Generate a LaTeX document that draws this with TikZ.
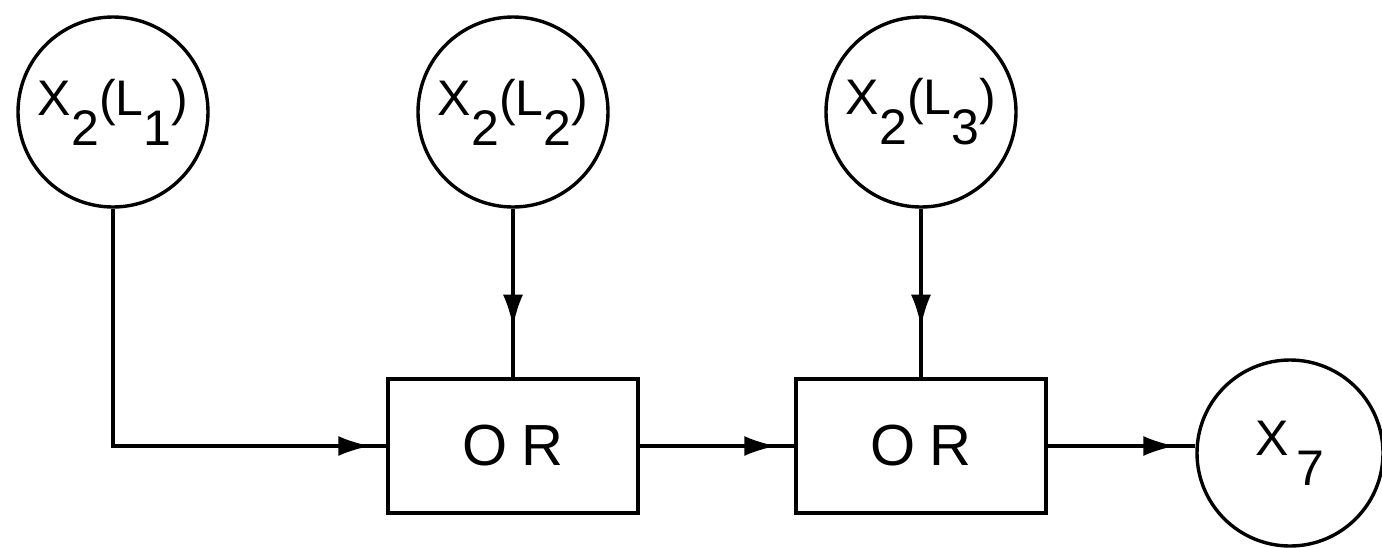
\documentclass[tikz,border=0pt]{standalone}
\usepackage{fontspec}
\setmainfont{Liberation Sans}
\usetikzlibrary{arrows.meta,decorations.markings}

\newcommand{\lowr}[1]{\raisebox{-0.6em}{#1}}

\begin{document}
\begin{tikzpicture}[
    x=0.5pt, y=-0.5pt,
    var/.style={draw=black, circle, line width=1.7pt,
      minimum size=95pt, inner sep=0pt,
      font=\fontsize{25}{27}\selectfont},
    gate/.style={draw=black, line width=1.7pt,
      minimum width=125pt, minimum height=67pt,
      font=\fontsize{29}{30}\selectfont},
    arrow/.style={line width=1.6pt, postaction={decorate},
      decoration={markings,
        mark=at position #1 with {\arrow{Latex[length=16pt,width=10pt]}}}}
  ]
    \useasboundingbox (0,0) rectangle (1382,547);
    \node[var] (loc1) at (113,112) {X\lowr{2}(L\lowr{1})};
    \node[var] (loc2) at (513,112) {X\lowr{2}(L\lowr{2})};
    \node[var] (loc3) at (921,112) {X\lowr{2}(L\lowr{3})};
    \node[gate] (or1) at (513,446) {O\hspace{0.25em}R};
    \node[gate] (or2) at (921,446) {O\hspace{0.25em}R};
    \node[var, minimum size=93pt] (out) at (1290,453) {X\,\lowr{7}};
    \draw[arrow=-8pt] (loc1) |- (or1);
    \draw[arrow=0.7] (loc2) -- (or1);
    \draw[arrow=0.7] (loc3) -- (or2);
    \draw[arrow=-9pt] (or1) -- (or2);
    \draw[arrow=-10pt] (or2.east) -- (out.west |- or2.east);
  \end{tikzpicture}
\end{document}
